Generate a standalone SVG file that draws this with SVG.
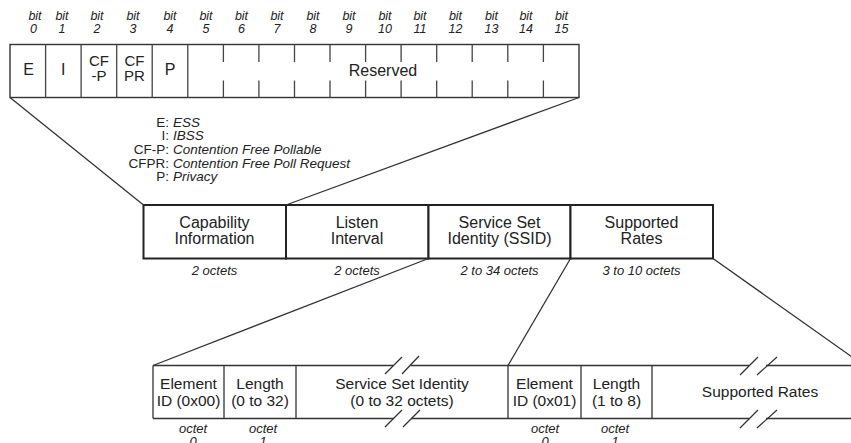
<svg xmlns="http://www.w3.org/2000/svg" width="851" height="443" viewBox="0 0 851 443">
  <style>
    .box { fill: #fff; stroke: #333; stroke-width: 1.4; }
    .mid { fill: #fff; stroke: #222; stroke-width: 2; }
    .ln { fill: none; stroke: #333; stroke-width: 1.3; }
    .tick { fill: none; stroke: #444; stroke-width: 1.3; }
    .t { font-family: "Liberation Sans", Arial, sans-serif; fill: #222; text-anchor: middle; }
    .lbl { font-size: 16px; }
    .two { font-size: 15px; }
    .big { font-size: 15.5px; }
    .it { font-style: italic; }
    .bit { font-size: 12.5px; }
    .sz { font-size: 13px; }
    .leg { font-family: "Liberation Sans", Arial, sans-serif; fill: #222; font-size: 13.5px; }
  </style>

  <!-- 16-bit capability field -->
  <g id="capability-bits">
    <rect class="box" x="10" y="44.5" width="569" height="53"/>
    <g class="tick">
      <line x1="45.6" y1="44.5" x2="45.6" y2="97.5"/>
      <line x1="81.1" y1="44.5" x2="81.1" y2="97.5"/>
      <line x1="116.7" y1="44.5" x2="116.7" y2="97.5"/>
      <line x1="152.2" y1="44.5" x2="152.2" y2="97.5"/>
      <line x1="187.8" y1="44.5" x2="187.8" y2="97.5"/>
    </g>
    <g class="tick">
      <path d="M223.4 44.5V62M223.4 80.5V97.5M258.9 44.5V62M258.9 80.5V97.5M294.5 44.5V62M294.5 80.5V97.5M330 44.5V62M330 80.5V97.5M365.6 44.5V62M365.6 80.5V97.5M401.1 44.5V62M401.1 80.5V97.5M436.7 44.5V62M436.7 80.5V97.5M472.2 44.5V62M472.2 80.5V97.5M507.8 44.5V62M507.8 80.5V97.5M543.4 44.5V62M543.4 80.5V97.5"/>
    </g>
    <text class="t lbl" x="28.5" y="75">E</text>
    <text class="t lbl" x="63.3" y="75">I</text>
    <text class="t two" x="98.9" y="66">CF</text>
    <text class="t two" x="98.9" y="80.5">-P</text>
    <text class="t two" x="134.4" y="66">CF</text>
    <text class="t two" x="134.4" y="80.5">PR</text>
    <text class="t lbl" x="170" y="75">P</text>
    <text class="t lbl" x="383" y="75.5">Reserved</text>
  </g>

  <!-- bit numbers -->
  <g id="bit-labels" class="t it bit">
    <text x="35" y="20">bit</text><text x="33.5" y="33">0</text>
    <text x="62" y="20">bit</text><text x="62" y="33">1</text>
    <text x="97" y="20">bit</text><text x="97" y="33">2</text>
    <text x="133" y="20">bit</text><text x="133" y="33">3</text>
    <text x="170" y="20">bit</text><text x="170" y="33">4</text>
    <text x="206" y="20">bit</text><text x="206" y="33">5</text>
    <text x="241.5" y="20">bit</text><text x="241.5" y="33">6</text>
    <text x="277" y="20">bit</text><text x="277" y="33">7</text>
    <text x="313" y="20">bit</text><text x="313" y="33">8</text>
    <text x="349" y="20">bit</text><text x="349" y="33">9</text>
    <text x="385" y="20">bit</text><text x="385" y="33">10</text>
    <text x="420" y="20">bit</text><text x="420" y="33">11</text>
    <text x="455.5" y="20">bit</text><text x="455.5" y="33">12</text>
    <text x="491.5" y="20">bit</text><text x="491.5" y="33">13</text>
    <text x="526" y="20">bit</text><text x="526" y="33">14</text>
    <text x="561.5" y="20">bit</text><text x="561.5" y="33">15</text>
  </g>

  <!-- bit legend -->
  <g id="legend" class="leg">
    <g text-anchor="end">
      <text x="169" y="127">E:</text>
      <text x="169" y="140">I:</text>
      <text x="169" y="154">CF-P:</text>
      <text x="169" y="167.5">CFPR:</text>
      <text x="169" y="181">P:</text>
    </g>
    <g font-style="italic">
      <text x="173" y="127">ESS</text>
      <text x="173" y="140">IBSS</text>
      <text x="173" y="154">Contention Free Pollable</text>
      <text x="173" y="167.5">Contention Free Poll Request</text>
      <text x="173" y="181">Privacy</text>
    </g>
  </g>

  <!-- fixed and information element fields -->
  <g id="field-capability">
    <rect class="mid" x="143.5" y="205" width="142.5" height="53.5"/>
    <text class="t lbl" x="214.5" y="228">Capability</text>
    <text class="t lbl" x="214.5" y="243.5">Information</text>
    <text class="t it sz" x="214.5" y="275">2 octets</text>
  </g>
  <g id="field-listen">
    <rect class="mid" x="286" y="205" width="142.5" height="53.5"/>
    <text class="t lbl" x="357" y="228">Listen</text>
    <text class="t lbl" x="357" y="243.5">Interval</text>
    <text class="t it sz" x="357" y="275">2 octets</text>
  </g>
  <g id="field-ssid">
    <rect class="mid" x="428.5" y="205" width="142" height="53.5"/>
    <text class="t lbl" x="499.5" y="228">Service Set</text>
    <text class="t lbl" x="499.5" y="243.5">Identity (SSID)</text>
    <text class="t it sz" x="499.5" y="275">2 to 34 octets</text>
  </g>
  <g id="field-rates">
    <rect class="mid" x="570.5" y="205" width="142.5" height="53.5"/>
    <text class="t lbl" x="641.5" y="228">Supported</text>
    <text class="t lbl" x="641.5" y="243.5">Rates</text>
    <text class="t it sz" x="641.5" y="275">3 to 10 octets</text>
  </g>

  <!-- SSID element breakdown -->
  <g id="ssid-element">
    <path class="ln" d="M153 365.5H393.5M410.5 365.5H508M153 418.5H393.5M411 418.5H508M153 365.5V418.5M224 365.5V418.5M296 365.5V418.5"/>
    <path class="ln" d="M385 374L402 357M402 374L419 356M385 427L402 410M403 427L420 410"/>
    <text class="t big" x="188.5" y="389">Element</text>
    <text class="t big" x="188.5" y="406">ID (0x00)</text>
    <text class="t big" x="260" y="389">Length</text>
    <text class="t big" x="260" y="406">(0 to 32)</text>
    <text class="t big" x="402" y="389">Service Set Identity</text>
    <text class="t big" x="402" y="406">(0 to 32 octets)</text>
    <text class="t it sz" x="193" y="433">octet</text>
    <text class="t it sz" x="193" y="446">0</text>
    <text class="t it sz" x="263" y="433">octet</text>
    <text class="t it sz" x="263" y="446">1</text>
  </g>

  <!-- supported rates element breakdown -->
  <g id="rates-element">
    <path class="ln" d="M508 365.5H749M766 365.5H851M508 418.5H749M766 418.5H851M508 365.5V418.5M581 365.5V418.5M652 365.5V418.5"/>
    <path class="ln" d="M740 375L758 357M757 375L777 357M740 428L758 410M757 428L777 410"/>
    <text class="t big" x="544.5" y="389">Element</text>
    <text class="t big" x="544.5" y="406">ID (0x01)</text>
    <text class="t big" x="616.5" y="389">Length</text>
    <text class="t big" x="616.5" y="406">(1 to 8)</text>
    <text class="t big" x="760" y="397">Supported Rates</text>
    <text class="t it sz" x="545" y="433">octet</text>
    <text class="t it sz" x="545" y="446">0</text>
    <text class="t it sz" x="615" y="433">octet</text>
    <text class="t it sz" x="615" y="446">1</text>
  </g>

  <!-- expansion lines -->
  <g id="connectors" class="ln">
    <line x1="10" y1="97.5" x2="143.5" y2="205"/>
    <line x1="579" y1="97.5" x2="286" y2="205"/>
    <line x1="428.5" y1="258.5" x2="153" y2="365.5"/>
    <line x1="570.5" y1="258.5" x2="508" y2="365.5"/>
    <line x1="713" y1="258.5" x2="864" y2="365.5"/>
  </g>
</svg>
